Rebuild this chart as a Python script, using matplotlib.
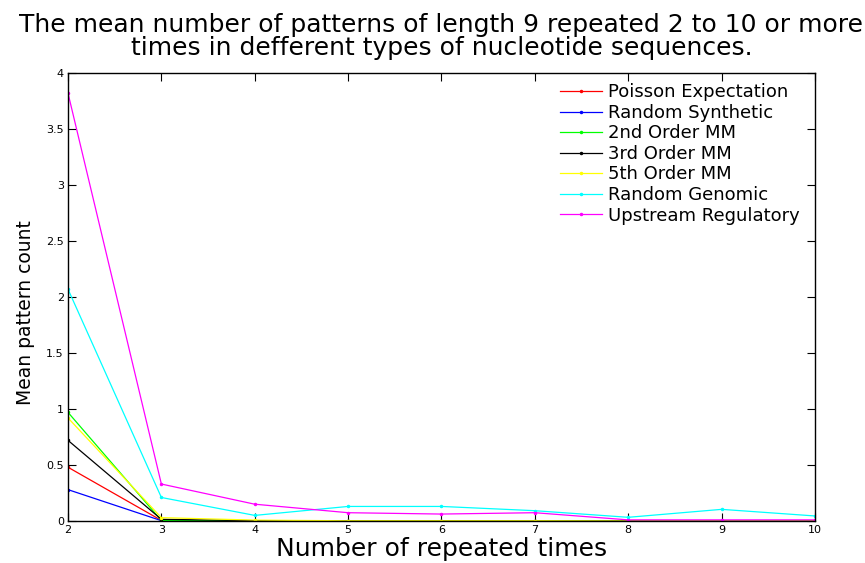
import matplotlib
matplotlib.use("Agg")
import matplotlib.pyplot as plt

# ── data ────────────────────────────────────────────────────────────
repeats = [2, 3, 4, 5, 6, 7, 8, 9, 10]
poisson   = [0.48, 0.005, 0.0, 0.0, 0.0, 0.0, 0.0, 0.0, 0.0]
synthetic = [0.28, 0.003, 0.0, 0.0, 0.0, 0.0, 0.0, 0.0, 0.0]
mm2       = [0.97, 0.005, 0.002, 0.0, 0.0, 0.0, 0.0, 0.0, 0.0]
mm3       = [0.72, 0.015, 0.003, 0.0, 0.0, 0.0, 0.0, 0.0, 0.0]
mm5       = [0.92, 0.03, 0.008, 0.002, 0.002, 0.002, 0.0, 0.0, 0.0]
genomic   = [2.07, 0.21, 0.05, 0.13, 0.13, 0.092, 0.033, 0.104, 0.045]
upstream  = [3.82, 0.33, 0.15, 0.074, 0.062, 0.074, 0.01, 0.01, 0.01]

series = [
    ("Poisson Expectation", poisson, "#ff0000"),
    ("Random Synthetic", synthetic, "#0000ff"),
    ("2nd Order MM", mm2, "#00ff00"),
    ("3rd Order MM", mm3, "#000000"),
    ("5th Order MM", mm5, "#ffff00"),
    ("Random Genomic", genomic, "#00ffff"),
    ("Upstream Regulatory", upstream, "#ff00ff"),
]

plt.rcParams["font.family"] = ["DejaVu Sans"]

fig = plt.figure(figsize=(8.65, 5.63), dpi=100)
ax = fig.add_axes([68 / 865, 1 - 521 / 563, (815 - 68) / 865, (521 - 73) / 563])

for name, vals, col in series:
    ax.plot(repeats, vals, color=col, lw=0.9, marker=".", ms=3, label=name)

ax.set_xlim(2, 10)
ax.set_ylim(0, 4)
ax.set_xticks(repeats)
ax.set_yticks([0, 0.5, 1, 1.5, 2, 2.5, 3, 3.5, 4])
ax.set_yticklabels(["0", "0.5", "1", "1.5", "2", "2.5", "3", "3.5", "4"])
ax.tick_params(direction="in", top=True, right=True, labelsize=8, length=6, width=0.8,
               pad=3)
for s in ax.spines.values():
    s.set_linewidth(1.0)

ax.set_xlabel("Number of repeated times", fontsize=18, labelpad=1)
ax.set_ylabel("Mean pattern count", fontsize=13.5)
ax.yaxis.set_label_coords(-0.044, 0.465)
ax.set_title("The mean number of patterns of length 9 repeated 2 to 10 or more\n"
             "times in defferent types of nucleotide sequences.",
             fontsize=18, pad=13, linespacing=0.95)

ax.legend(loc="upper right", frameon=False, fontsize=13, handlelength=2.3,
          labelspacing=0.14, borderaxespad=0.0, borderpad=0.4, handletextpad=0.33,
          bbox_to_anchor=(0.989, 0.993))

fig.savefig("out.png", dpi=100)
